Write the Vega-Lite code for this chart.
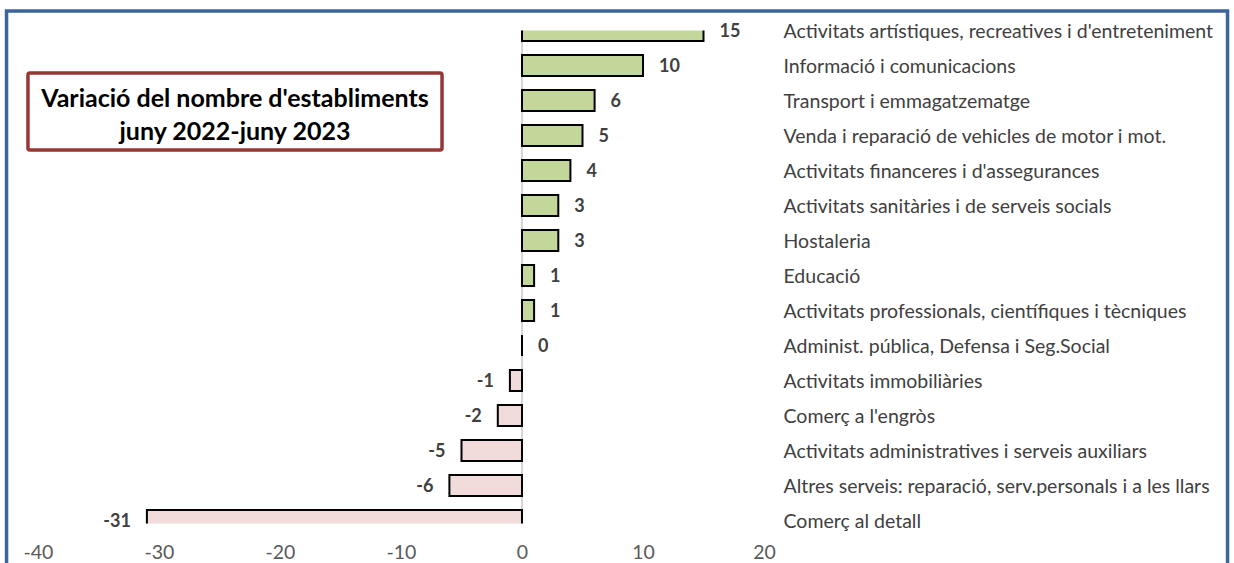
{
  "$schema": "https://vega.github.io/schema/vega-lite/v6.json",
  "width": 726,
  "height": 493,
  "autosize": "none",
  "padding": {"left": 38, "top": 30.5, "right": 470, "bottom": 39.5},
  "background": "white",
  "config": {
    "view": {"stroke": null},
    "font": "Lato",
    "locale": {"number": {"decimal": ".", "thousands": ",", "grouping": [3], "currency": ["", " €"], "minus": "-"}}
  },
  "datasets": {
    "main": [
      {"category": "Activitats artístiques, recreatives i d'entreteniment", "value": 15},
      {"category": "Informació i comunicacions", "value": 10},
      {"category": "Transport i emmagatzematge", "value": 6},
      {"category": "Venda i reparació de vehicles de motor i mot.", "value": 5},
      {"category": "Activitats financeres i d'assegurances", "value": 4},
      {"category": "Activitats sanitàries i de serveis socials", "value": 3},
      {"category": "Hostaleria", "value": 3},
      {"category": "Educació", "value": 1},
      {"category": "Activitats professionals, científiques i tècniques", "value": 1},
      {"category": "Administ. pública, Defensa i Seg.Social", "value": 0},
      {"category": "Activitats immobiliàries", "value": -1},
      {"category": "Comerç a l'engròs", "value": -2},
      {"category": "Activitats administratives i serveis auxiliars", "value": -5},
      {"category": "Altres serveis: reparació, serv.personals i a les llars", "value": -6},
      {"category": "Comerç al detall", "value": -31}
    ]
  },
  "layer": [
    {
      "data": {"values": [{}]},
      "mark": {"type": "rect", "fill": null, "fillOpacity": 0, "stroke": "#3C669B", "strokeWidth": 3.5},
      "encoding": {
        "x": {"datum": -42.6, "type": "quantitative"},
        "x2": {"datum": 58.31},
        "y": {"datum": -0.557, "type": "quantitative", "scale": {"domain": [0, 14], "range": [0, 490], "nice": false, "zero": false}, "axis": null},
        "y2": {"datum": 20}
      }
    },
    {
      "data": {"values": [{}]},
      "mark": {"type": "rule", "color": "#C8C8C8", "strokeWidth": 1.5},
      "encoding": {"x": {"datum": 0, "type": "quantitative"}}
    },
    {
      "data": {"name": "main"},
      "encoding": {
        "y": {
          "field": "category",
          "type": "nominal",
          "sort": null,
          "scale": {"range": [-17.5, 507.5], "paddingInner": 0.4, "paddingOuter": 0.2},
          "axis": {
            "orient": "right",
            "domain": false,
            "ticks": false,
            "labelPadding": 19,
            "labelAlign": "left",
            "labelBaseline": "middle",
            "labelFontSize": 19.5,
            "labelColor": "#404040",
            "labelLimit": 600,
            "labelOffset": 1.5,
            "title": null
          }
        }
      },
      "layer": [
        {
          "mark": {"type": "bar", "stroke": "black", "strokeWidth": 2, "clip": true},
          "encoding": {
            "x": {
              "field": "value",
              "type": "quantitative",
              "scale": {"domain": [-40, 20], "nice": false, "zero": false},
              "axis": {
                "values": [-40, -30, -20, -10, 0, 10, 20],
                "domain": false,
                "ticks": false,
                "grid": false,
                "labelFontSize": 19.5,
                "labelColor": "#595959",
                "labelPadding": 20,
                "labelFlush": false,
                "labelOverlap": false,
                "title": null
              }
            },
            "fill": {"condition": {"test": "datum.value < 0", "value": "#F2DCDB"}, "value": "#C4D79B"}
          }
        },
        {
          "transform": [{"filter": "datum.value >= 0"}],
          "mark": {"type": "text", "align": "left", "baseline": "middle", "dx": 16, "dy": 1.5, "fontWeight": "bold", "fontSize": 18, "color": "#404040"},
          "encoding": {
            "x": {"field": "value", "type": "quantitative"},
            "text": {"field": "value", "type": "quantitative"}
          }
        },
        {
          "transform": [{"filter": "datum.value < 0"}],
          "mark": {"type": "text", "align": "right", "baseline": "middle", "dx": -16, "dy": 1.5, "fontWeight": "bold", "fontSize": 18, "color": "#404040"},
          "encoding": {
            "x": {"field": "value", "type": "quantitative"},
            "text": {"field": "value", "type": "quantitative"}
          }
        }
      ]
    },
    {
      "data": {"values": [{}]},
      "mark": {"type": "rect", "fill": "white", "stroke": "#953735", "strokeWidth": 3.5, "cornerRadius": 2},
      "encoding": {
        "x": {"datum": -40.83, "type": "quantitative"},
        "x2": {"datum": -6.61},
        "y": {"datum": 1.214, "type": "quantitative", "scale": {"domain": [0, 14], "range": [0, 490], "nice": false, "zero": false}, "axis": null},
        "y2": {"datum": 3.414}
      }
    },
    {
      "data": {"values": [{"title": ["Variació del nombre d'establiments", "juny 2022-juny 2023"]}]},
      "mark": {"type": "text", "align": "center", "baseline": "middle", "fontWeight": "bold", "fontSize": 25, "color": "black", "lineHeight": 33},
      "encoding": {
        "x": {"datum": -23.72, "type": "quantitative"},
        "y": {"datum": 1.957, "type": "quantitative", "scale": {"domain": [0, 14], "range": [0, 490], "nice": false, "zero": false}, "axis": null},
        "text": {"field": "title"}
      }
    }
  ],
  "resolve": {"scale": {"y": "independent"}, "axis": {"y": "independent"}}
}
